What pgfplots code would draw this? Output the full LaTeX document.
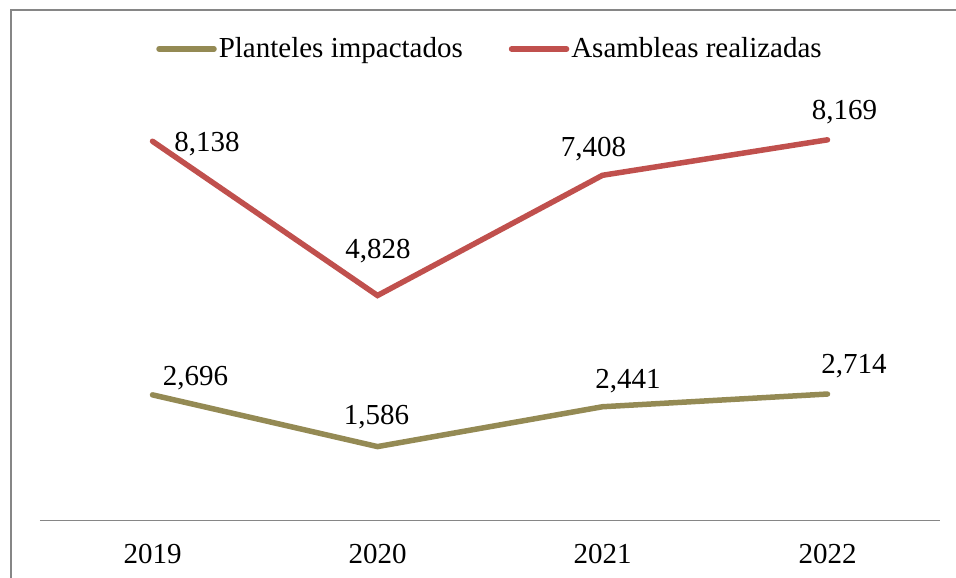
\documentclass[border=0pt]{standalone}
\usepackage{fontspec}
\setmainfont{Liberation Serif}
\usepackage{pgfplots}
\usepackage{pgfplotstable}
\pgfplotsset{compat=1.18}
\definecolor{olive1}{HTML}{948A54}
\definecolor{red1}{HTML}{C0504D}
\definecolor{bord}{HTML}{868686}
\newcommand{\cf}{\fontsize{14.5}{17}\selectfont}
\pgfplotstableread{
x y label dx dy
0 2696 2,696 21.5 4.5
1 1586 1,586 -0.5 11
2 2441 2,441 12.75 9
3 2714 2,714 13.25 10.5
}\planteles
\pgfplotstableread{
x y label dx dy
0 8138 8,138 27.25 -5
1 4828 4,828 0.25 18.5
2 7408 7,408 -4.5 9.5
3 8169 8,169 8.5 10.25
}\asambleas
\begin{document}
\begin{tikzpicture}
\useasboundingbox (0,0) rectangle (478pt,288.5pt);
\clip (0,0) rectangle (478pt,288.5pt);
\draw[bord, line width=0.75pt] (5.5pt,-20pt) rectangle (500pt,283.5pt);
\begin{axis}[
  at={(20pt,28.25pt)}, anchor=south west,
  scale only axis, width=450pt, height=233pt,
  xmin=-0.5, xmax=3.5, ymin=0, ymax=10000,
  axis x line=bottom, axis y line=none,
  x axis line style={-, bord, line width=0.9pt},
  xtick={0,1,2,3}, xticklabels={2019,2020,2021,2022},
  major tick length=0pt, ytick=\empty,
  xticklabel style={anchor=base, inner sep=0pt, yshift=-21.25pt, font=\cf},
  legend columns=2,
  legend style={at={(0.5,1.0118)}, anchor=center, draw=none, fill=none,
    font=\cf, inner sep=0pt,
    /tikz/every even column/.append style={column sep=22pt},
    nodes={inner sep=1pt}},
  legend image code/.code={\draw[#1, line cap=round] (0pt,0pt) -- (27.5pt,0pt);},
  nodes near coords,
  point meta=explicit symbolic,
  visualization depends on={\thisrow{dx}\as\dx},
  visualization depends on={\thisrow{dy}\as\dy},
  every node near coord/.style={anchor=base, inner sep=0pt, xshift={(\dx)*1pt}, yshift={(\dy)*1pt}, font=\cf, text=black},
]
\addplot[olive1, line width=2.75pt, line cap=round, mark=none] table[x=x, y=y, meta=label] {\planteles};
\addlegendentry{Planteles impactados}
\addplot[red1, line width=2.75pt, line cap=round, mark=none] table[x=x, y=y, meta=label] {\asambleas};
\addlegendentry{Asambleas realizadas}
\end{axis}
\end{tikzpicture}
\end{document}
